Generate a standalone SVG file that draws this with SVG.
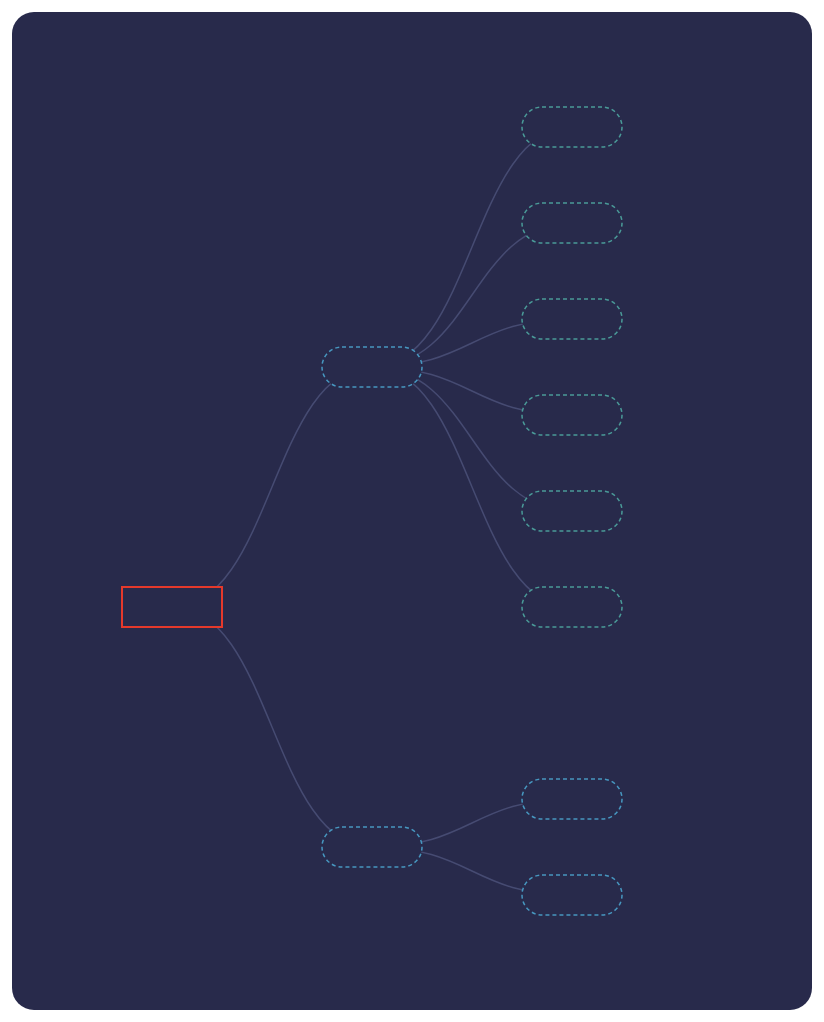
<svg xmlns="http://www.w3.org/2000/svg" width="824" height="1022" viewBox="0 0 824 1022">
<style>
.bg{fill:#282a4b}
.link{fill:none;stroke:#464b72;stroke-width:1.5}
.root{fill:#282a4b;stroke:#e5392b;stroke-width:2}
.mid{fill:#282a4b;stroke:#4797c0;stroke-width:1.5;stroke-dasharray:4 3}
.leaf{fill:#282a4b;stroke:#4a9a98;stroke-width:1.5;stroke-dasharray:4 3}
.leafb{fill:#282a4b;stroke:#4797c0;stroke-width:1.5;stroke-dasharray:4 3}
</style>
<rect width="824" height="1022" fill="#ffffff"/>
<rect class="bg" x="12" y="12" width="800" height="998" rx="22" ry="22"/>
<g id="connectors">
<path class="link" d="M172,607 C272,607 272,367 372,367"/>
<path class="link" d="M172,607 C272,607 272,847 372,847"/>
<path class="link" d="M372,367 C472,367 472,127 572,127"/>
<path class="link" d="M372,367 C472,367 472,223 572,223"/>
<path class="link" d="M372,367 C472,367 472,319 572,319"/>
<path class="link" d="M372,367 C472,367 472,415 572,415"/>
<path class="link" d="M372,367 C472,367 472,511 572,511"/>
<path class="link" d="M372,367 C472,367 472,607 572,607"/>
<path class="link" d="M372,847 C472,847 472,799 572,799"/>
<path class="link" d="M372,847 C472,847 472,895 572,895"/>
</g>
<g id="root"><rect class="root" x="122" y="587" width="100" height="40"/></g>
<g id="mid1"><rect class="mid" x="322" y="347" width="100" height="40" rx="20"/></g>
<g id="mid2"><rect class="mid" x="322" y="827" width="100" height="40" rx="20"/></g>
<g id="leaf1"><rect class="leaf" x="522" y="107" width="100" height="40" rx="20"/></g>
<g id="leaf2"><rect class="leaf" x="522" y="203" width="100" height="40" rx="20"/></g>
<g id="leaf3"><rect class="leaf" x="522" y="299" width="100" height="40" rx="20"/></g>
<g id="leaf4"><rect class="leaf" x="522" y="395" width="100" height="40" rx="20"/></g>
<g id="leaf5"><rect class="leaf" x="522" y="491" width="100" height="40" rx="20"/></g>
<g id="leaf6"><rect class="leaf" x="522" y="587" width="100" height="40" rx="20"/></g>
<g id="leaf7"><rect class="leafb" x="522" y="779" width="100" height="40" rx="20"/></g>
<g id="leaf8"><rect class="leafb" x="522" y="875" width="100" height="40" rx="20"/></g>
</svg>
